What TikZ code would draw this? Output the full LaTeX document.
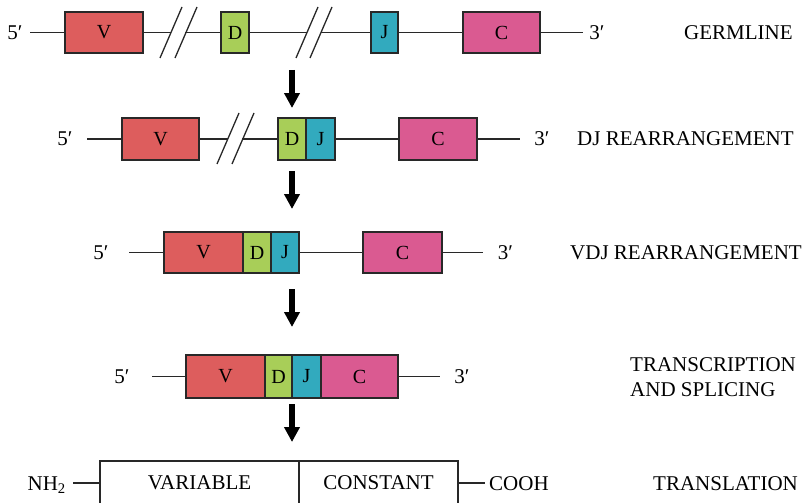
\documentclass[tikz,border=0pt]{standalone}
\usepackage{fontspec}
\setmainfont{Liberation Serif}
\usetikzlibrary{arrows.meta}
\definecolor{vcol}{RGB}{221,93,93}
\definecolor{dcol}{RGB}{168,206,88}
\definecolor{jcol}{RGB}{50,170,190}
\definecolor{ccol}{RGB}{218,90,145}
\definecolor{edge}{RGB}{40,40,40}
\begin{document}
\begin{tikzpicture}[x=1pt,y=-1pt,
  seg/.style={draw=edge, line width=1.3pt, inner sep=0pt, font=\fontsize{20}{24}\selectfont},
  dna/.style={line width=1.3pt, draw=edge},
  lbl/.style={font=\fontsize{21}{25}\selectfont, inner sep=0pt},
  bigarrow/.style={line width=5.5pt, draw=black, -{Triangle[width=15pt,length=15pt]}}]
\useasboundingbox (0,0) rectangle (806,503);
\clip (0,0) rectangle (806,503);

% ---------- Row 1: germline ----------
\node[seg,fill=vcol,minimum width=78pt,minimum height=41pt] (v1) at (104,32.5) {V};
\node[seg,fill=dcol,minimum width=28pt,minimum height=41pt] (d1) at (235,32.5) {D};
\node[seg,fill=jcol,minimum width=27pt,minimum height=41pt] (j1) at (384.5,32.5) {J};
\node[seg,fill=ccol,minimum width=77pt,minimum height=41pt] (c1) at (501.5,32.5) {C};
\node[lbl] (p5a) at (15,33) {5′};
\node[lbl] (p3a) at (597,33) {3′};
\node[lbl,anchor=west] (t1) at (684,33) {GERMLINE};
\coordinate (a1) at (30,32.5);
\coordinate (b1) at (583,32.5);
\coordinate (s1l) at (171,32.5);
\coordinate (s1r) at (185,32.5);
\coordinate (s2l) at (307,32.5);
\coordinate (s2r) at (321,32.5);
\draw[dna] (a1) -- (v1.west);
\draw[dna] (v1.east) -- (s1l);
\draw[dna] (s1r) -- (d1.west);
\draw[dna] (d1.east) -- (s2l);
\draw[dna] (s2r) -- (j1.west);
\draw[dna] (j1.east) -- (c1.west);
\draw[dna] (c1.east) -- (b1);
\draw[dna] (160,58) -- (182,7);
\draw[dna] (175,58) -- (197,7);
\draw[dna] (296,58) -- (318,7);
\draw[dna] (310,58) -- (332,7);

% ---------- Row 2: DJ ----------
\node[seg,fill=vcol,minimum width=77pt,minimum height=42pt] (v2) at (160.5,139) {V};
\node[seg,fill=dcol,minimum width=28pt,minimum height=42pt] (d2) at (292,139) {D};
\node[seg,fill=jcol,minimum width=29pt,minimum height=42pt] (j2) at (320.5,139) {J};
\node[seg,fill=ccol,minimum width=78pt,minimum height=42pt] (c2) at (438,139) {C};
\node[lbl] (p5b) at (65,139) {5′};
\node[lbl] (p3b) at (542,139) {3′};
\node[lbl,anchor=west] (t2) at (577,139) {DJ REARRANGEMENT};
\coordinate (a2) at (87,139);
\coordinate (b2) at (520,139);
\coordinate (s3l) at (228,139);
\coordinate (s3r) at (242,139);
\draw[dna] (a2) -- (v2.west);
\draw[dna] (v2.east) -- (s3l);
\draw[dna] (s3r) -- (d2.west);
\draw[dna] (j2.east) -- (c2.west);
\draw[dna] (c2.east) -- (b2);
\draw[dna] (217,164) -- (239,113);
\draw[dna] (232,164) -- (254,113);

% ---------- Row 3: VDJ ----------
\node[seg,fill=vcol,minimum width=79pt,minimum height=41pt] (v3) at (203.5,252.5) {V};
\node[seg,fill=dcol,minimum width=28pt,minimum height=41pt] (d3) at (257,252.5) {D};
\node[seg,fill=jcol,minimum width=28pt,minimum height=41pt] (j3) at (285,252.5) {J};
\node[seg,fill=ccol,minimum width=79pt,minimum height=41pt] (c3) at (402.5,252.5) {C};
\node[lbl] (p5c) at (101,253) {5′};
\node[lbl] (p3c) at (505.5,253) {3′};
\node[lbl,anchor=west] (t3) at (570,253) {VDJ REARRANGEMENT};
\coordinate (a3) at (129,252.5);
\coordinate (b3) at (483,252.5);
\draw[dna] (a3) -- (v3.west);
\draw[dna] (j3.east) -- (c3.west);
\draw[dna] (c3.east) -- (b3);

% ---------- Row 4: transcription ----------
\node[seg,fill=vcol,minimum width=79pt,minimum height=43pt] (v4) at (225.5,376.5) {V};
\node[seg,fill=dcol,minimum width=27pt,minimum height=43pt] (d4) at (278.5,376.5) {D};
\node[seg,fill=jcol,minimum width=29pt,minimum height=43pt] (j4) at (306.5,376.5) {J};
\node[seg,fill=ccol,minimum width=77pt,minimum height=43pt] (c4) at (359.5,376.5) {C};
\node[lbl] (p5d) at (122,377) {5′};
\node[lbl] (p3d) at (462,377) {3′};
\node[lbl,anchor=west,align=left] (t4) at (630,377) {TRANSCRIPTION\\AND SPLICING};
\coordinate (a4) at (152,376.5);
\coordinate (b4) at (440,376.5);
\draw[dna] (a4) -- (v4.west);
\draw[dna] (c4.east) -- (b4);

% ---------- Row 5: protein ----------
\node[seg,minimum width=199pt,minimum height=44pt,font=\fontsize{21}{25}\selectfont] (var) at (199.5,483) {VARIABLE};
\node[seg,minimum width=159pt,minimum height=44pt,font=\fontsize{21}{25}\selectfont] (con) at (378.5,483) {CONSTANT};
\node[lbl,anchor=base east] (nh) at (66,490) {NH\textsubscript{2}};
\node[lbl,anchor=west] (cooh) at (489,484) {COOH};
\node[lbl,anchor=west] (t5) at (653,484) {TRANSLATION};
\coordinate (a5) at (73,483);
\coordinate (b5) at (485,483);
\draw[dna] (a5) -- (var.west);
\draw[dna] (con.east) -- (b5);

% ---------- Arrows ----------
\coordinate (r1s) at (292,70);  \coordinate (r1e) at (292,108);
\coordinate (r2s) at (292,171); \coordinate (r2e) at (292,209);
\coordinate (r3s) at (292,289); \coordinate (r3e) at (292,327);
\coordinate (r4s) at (292,404); \coordinate (r4e) at (292,442);
\draw[bigarrow] (r1s) -- (r1e);
\draw[bigarrow] (r2s) -- (r2e);
\draw[bigarrow] (r3s) -- (r3e);
\draw[bigarrow] (r4s) -- (r4e);
\end{tikzpicture}
\end{document}
